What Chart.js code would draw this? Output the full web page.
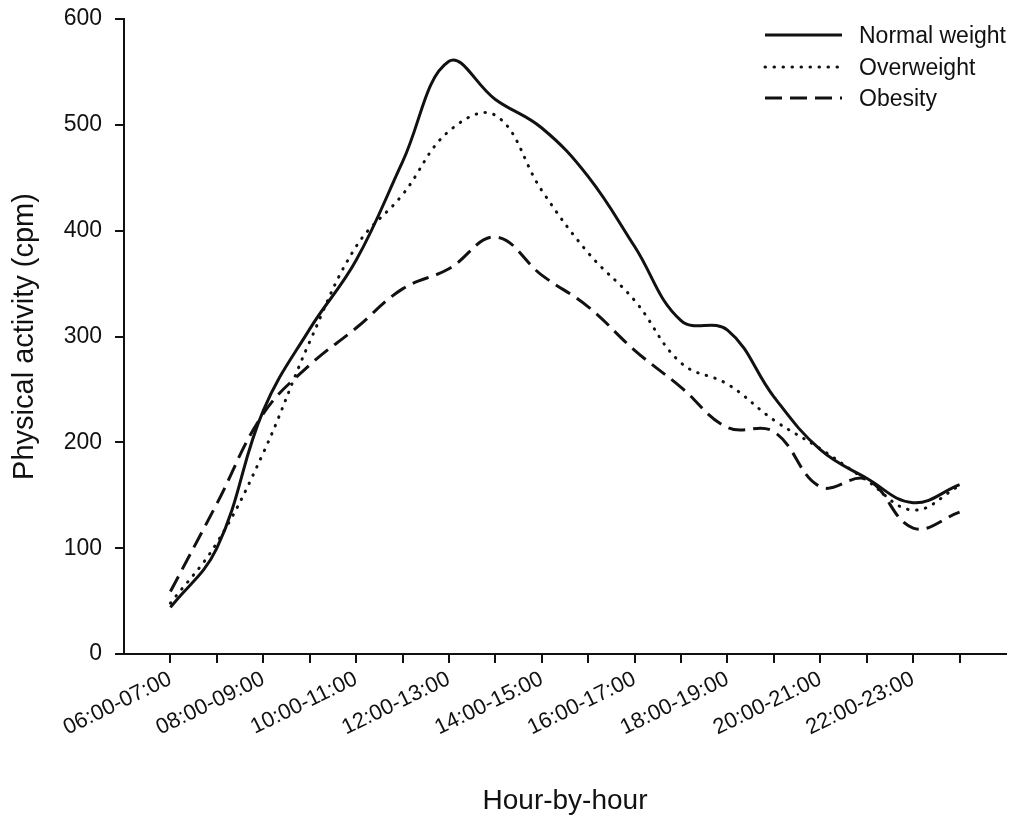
<!DOCTYPE html>
<html>
<head>
<meta charset="utf-8">
<script src="https://cdn.jsdelivr.net/npm/chart.js@4.4.1/dist/chart.umd.min.js"></script>
<style>
    html, body { margin: 0; padding: 0; background: #fff; }
    #wrap { width: 1016px; height: 824px; }
</style>
</head>
<body>
<div id="wrap"><canvas id="activityChart" width="1016" height="824"></canvas></div>
<script>
// hourly time slots on the x axis
const hours = [
    '06:00-07:00', '07:00-08:00', '08:00-09:00', '09:00-10:00', '10:00-11:00', '11:00-12:00',
    '12:00-13:00', '13:00-14:00', '14:00-15:00', '15:00-16:00', '16:00-17:00', '17:00-18:00',
    '18:00-19:00', '19:00-20:00', '20:00-21:00', '21:00-22:00', '22:00-23:00', '23:00-24:00'
];

// physical activity (cpm) per weight group
const normalWeight = [44, 100, 230, 307, 372, 465, 560, 524, 497, 451, 385, 315, 306, 243, 193, 166, 143, 160];
const overweight   = [48, 105, 190, 295, 385, 434, 494, 509, 438, 379, 334, 275, 255, 221, 194, 164, 136, 159];
const obesity      = [59, 142, 227, 273, 308, 345, 364, 394, 358, 328, 287, 252, 214, 210, 158, 165, 119, 134];

const yTicks = [0, 100, 200, 300, 400, 500, 600];

const FONT = 'Arial, "Liberation Sans", Helvetica, sans-serif';
const INK = '#111';

function toPoints(values) {
    return values.map((v, i) => ({ x: i, y: v }));
}

// legend drawn inside the plot, top right, with long line samples
const insideLegend = {
    id: 'insideLegend',
    afterDraw(chart) {
        const ctx = chart.ctx;
        const rows = [35, 67, 98];
        ctx.save();
        chart.data.datasets.forEach((ds, i) => {
            const y = rows[i];
            ctx.beginPath();
            ctx.strokeStyle = ds.borderColor;
            ctx.lineWidth = ds.borderWidth;
            ctx.lineCap = ds.borderCapStyle || 'butt';
            ctx.setLineDash(ds.borderDash || []);
            ctx.moveTo(765, y);
            ctx.lineTo(842, y);
            ctx.stroke();

            ctx.setLineDash([]);
            ctx.fillStyle = INK;
            ctx.font = '23px ' + FONT;
            ctx.textBaseline = 'middle';
            ctx.textAlign = 'left';
            ctx.fillText(ds.label, 859, y + 2);
        });
        ctx.restore();
    }
};

const ctx = document.getElementById('activityChart').getContext('2d');

const activityChart = new Chart(ctx, {
    type: 'line',
    data: {
        datasets: [{
            label: 'Normal weight',
            data: toPoints(normalWeight),
            borderColor: INK,
            borderWidth: 3,
            borderDash: [],
            tension: 0.4
        }, {
            label: 'Overweight',
            data: toPoints(overweight),
            borderColor: INK,
            borderWidth: 3,
            borderDash: [0.5, 8.5],
            borderCapStyle: 'round',
            tension: 0.4
        }, {
            label: 'Obesity',
            data: toPoints(obesity),
            borderColor: INK,
            borderWidth: 3,
            borderDash: [17, 8],
            tension: 0.4
        }]
    },
    options: {
        responsive: false,
        animation: false,
        layout: {
            padding: { top: 19, right: 10, left: 0, bottom: 0 }
        },
        elements: {
            point: { radius: 0 }
        },
        plugins: {
            legend: { display: false },
            tooltip: { enabled: false }
        },
        scales: {
            x: {
                type: 'linear',
                min: -1,
                max: hours.length,
                afterBuildTicks: scale => {
                    scale.ticks = hours.map((h, i) => ({ value: i }));
                },
                afterFit: scale => {
                    scale.height = 170;
                },
                grid: {
                    drawOnChartArea: false,
                    drawTicks: true,
                    tickLength: 9,
                    color: INK,
                    lineWidth: 2
                },
                border: { display: true, color: INK, width: 2 },
                ticks: {
                    autoSkip: false,
                    minRotation: 26,
                    maxRotation: 26,
                    padding: 3,
                    color: INK,
                    font: { family: FONT, size: 22 },
                    callback: value => (value % 2 === 0 ? hours[value] : '')
                },
                title: {
                    display: true,
                    text: 'Hour-by-hour',
                    color: INK,
                    font: { family: FONT, size: 28 },
                    padding: { top: 0, bottom: 6 }
                }
            },
            y: {
                min: 0,
                max: 600,
                afterBuildTicks: scale => {
                    scale.ticks = yTicks.map(v => ({ value: v }));
                },
                afterFit: scale => {
                    scale.width = 124;
                    // let the 600 tick sit right at the layout padding
                    scale.paddingTop = 0;
                    scale.paddingBottom = 0;
                },
                grid: {
                    drawOnChartArea: false,
                    drawTicks: true,
                    tickLength: 9,
                    color: INK,
                    lineWidth: 2
                },
                border: { display: true, color: INK, width: 2 },
                ticks: {
                    padding: 13,
                    color: INK,
                    font: { family: FONT, size: 23 }
                },
                title: {
                    display: true,
                    text: 'Physical activity (cpm)',
                    color: INK,
                    font: { family: FONT, size: 29 },
                    padding: { top: 8, bottom: 0 }
                }
            }
        }
    },
    plugins: [insideLegend]
});
</script>
</body>
</html>
